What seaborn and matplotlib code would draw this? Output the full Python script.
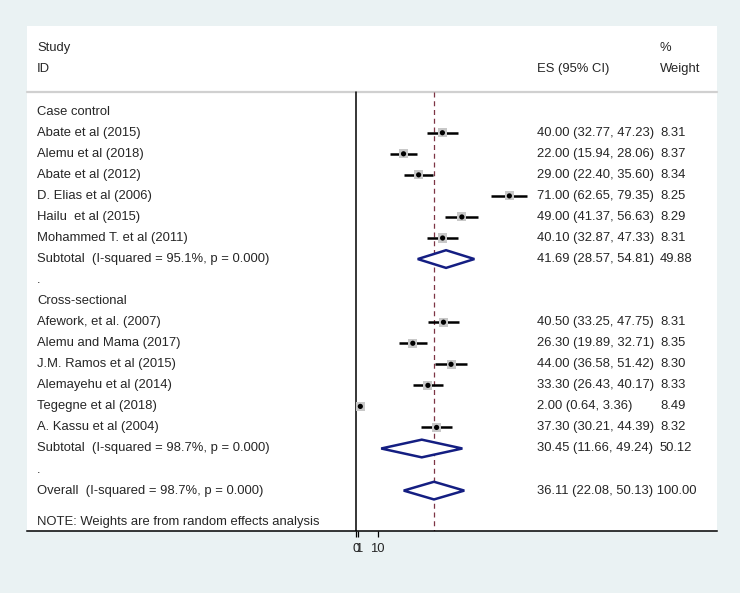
import pandas as pd
import numpy as np
import matplotlib
matplotlib.use("Agg")
import matplotlib.pyplot as plt
import seaborn as sns

# --- data ---
group_names = ["Case control", "Cross-sectional"]

cc_study = ["Abate et al (2015)", "Alemu et al (2018)", "Abate et al (2012)",
            "D. Elias et al (2006)", "Hailu  et al (2015)", "Mohammed T. et al (2011)"]
cc_es = [40.00, 22.00, 29.00, 71.00, 49.00, 40.10]
cc_lo = [32.77, 15.94, 22.40, 62.65, 41.37, 32.87]
cc_hi = [47.23, 28.06, 35.60, 79.35, 56.63, 47.33]
cc_w = [8.31, 8.37, 8.34, 8.25, 8.29, 8.31]

cs_study = ["Afework, et al. (2007)", "Alemu and Mama (2017)", "J.M. Ramos et al (2015)",
            "Alemayehu et al (2014)", "Tegegne et al (2018)", "A. Kassu et al (2004)"]
cs_es = [40.50, 26.30, 44.00, 33.30, 2.00, 37.30]
cs_lo = [33.25, 19.89, 36.58, 26.43, 0.64, 30.21]
cs_hi = [47.75, 32.71, 51.42, 40.17, 3.36, 44.39]
cs_w = [8.31, 8.35, 8.30, 8.33, 8.49, 8.32]

sub_es = [41.69, 30.45]
sub_lo = [28.57, 11.66]
sub_hi = [54.81, 49.24]
sub_w = [49.88, 50.12]
sub_i2 = ["95.1%", "98.7%"]
sub_p = ["0.000", "0.000"]

overall_es, overall_lo, overall_hi = 36.11, 22.08, 50.13
overall_i2, overall_p = "98.7%", "0.000"

x_ticks = [0, 1, 10]
x_ticklabels = ["0", "1", "10"]

# --- build row table ---
rows = []
r = 0
groups = [(cc_study, cc_es, cc_lo, cc_hi, cc_w), (cs_study, cs_es, cs_lo, cs_hi, cs_w)]
for g, (names, es, lo, hi, w) in enumerate(groups):
    rows.append(dict(row=r, label=group_names[g], kind="header"))
    r += 1
    for n, e, l, h, ww in zip(names, es, lo, hi, w):
        rows.append(dict(row=r, label=n, kind="study", es=e, lo=l, hi=h, w=ww))
        r += 1
    rows.append(dict(row=r, label=f"Subtotal  (I-squared = {sub_i2[g]}, p = {sub_p[g]})",
                     kind="sub", es=sub_es[g], lo=sub_lo[g], hi=sub_hi[g], w=sub_w[g]))
    r += 1
    rows.append(dict(row=r, label=".", kind="blank"))
    r += 1
rows.append(dict(row=r, label=f"Overall  (I-squared = {overall_i2}, p = {overall_p})",
                 kind="overall", es=overall_es, lo=overall_lo, hi=overall_hi, w=100.00))
df = pd.DataFrame(rows)
studies = df[df["kind"] == "study"]
pooled = df[df["kind"].isin(["sub", "overall"])]

# --- figure ---
sns.set_style("white")
plt.rcParams["font.family"] = ["Liberation Sans", "DejaVu Sans"]
fs_lab = 9.4     # study labels / headers
fs_num = 9.4     # numeric columns
bg = "#EAF2F3"

fig = plt.figure(figsize=(7.4, 5.93), dpi=100, facecolor=bg)
W, H = 740, 593
pl, pr, pt, pb = 27, 717, 26, 531
ax = fig.add_axes([pl / W, 1 - pb / H, (pr - pl) / W, (pb - pt) / H])
ax.set_facecolor("white")

x0, k = 356, 2.16          # pixel of value 0 and pixels per unit
y0, dy = 111.7, 21.05      # pixel of row 0 and pixels per row
ax.set_xlim((pl - x0) / k, (pr - x0) / k)
ax.set_ylim((pb - y0) / dy, (pt - y0) / dy)

def fx(px):
    return (px - pl) / (pr - pl)

def fy(py):
    return (py - y0) / dy

tr = ax.get_yaxis_transform()
top_line = fy(92)
bottom = fy(pb)

# header separator
ax.plot([0, 1], [top_line, top_line], transform=tr, color="#d0d0d0", lw=1.6, clip_on=False)

# null line and overall line
ax.plot([0, 0], [top_line, bottom], color="black", lw=1.1)
ax.plot([overall_es, overall_es], [top_line, bottom], color="#7d3444", lw=0.9,
        dashes=(4, 3))

# CIs and points
ax.hlines(studies["row"], studies["lo"], studies["hi"], color="black", lw=1.8)
sns.scatterplot(data=studies, x="es", y="row", marker="s", s=42, color="#c8c8c8",
                edgecolor="none", ax=ax, zorder=3, legend=False)
sns.scatterplot(data=studies, x="es", y="row", marker="o", s=14, color="black",
                edgecolor="none", ax=ax, zorder=4, legend=False)

# diamonds
hh = 0.42
for _, p in pooled.iterrows():
    xs = [p["lo"], p["es"], p["hi"], p["es"], p["lo"]]
    ys = [p["row"], p["row"] - hh, p["row"], p["row"] + hh, p["row"]]
    ax.fill(xs, ys, facecolor="white", edgecolor="#141e82", lw=1.8, zorder=3)

# left labels
for _, p in df.iterrows():
    ax.text(fx(37), p["row"], p["label"], transform=tr,
            ha="left", va="center", fontsize=fs_lab)

# right columns
for _, p in df[df["kind"].isin(["study", "sub", "overall"])].iterrows():
    es_txt = f"{p['es']:.2f} ({p['lo']:.2f}, {p['hi']:.2f})"
    if p["kind"] == "overall":
        ax.text(fx(537), p["row"], f"{es_txt} {p['w']:.2f}", transform=tr,
                ha="left", va="center", fontsize=fs_num)
    else:
        ax.text(fx(537), p["row"], es_txt, transform=tr,
                ha="left", va="center", fontsize=fs_num)
        ax.text(fx(660), p["row"], f"{p['w']:.2f}", transform=tr,
                ha="left", va="center", fontsize=fs_num)

# column headers
hy1, hy2 = fy(48), fy(69)
ax.text(fx(37), hy1, "Study", transform=tr, ha="left", va="center", fontsize=fs_lab)
ax.text(fx(37), hy2, "ID", transform=tr, ha="left", va="center", fontsize=fs_lab)
ax.text(fx(537), hy2, "ES (95% CI)", transform=tr, ha="left", va="center", fontsize=fs_lab)
ax.text(fx(660), hy1, "%", transform=tr, ha="left", va="center", fontsize=fs_lab)
ax.text(fx(660), hy2, "Weight", transform=tr, ha="left", va="center", fontsize=fs_lab)
ax.text(fx(37), fy(521.7), "NOTE: Weights are from random effects analysis",
        transform=tr, ha="left", va="center", fontsize=fs_lab)

# axis
for s in ["top", "left", "right"]:
    ax.spines[s].set_visible(False)
ax.spines["bottom"].set_color("black")
ax.spines["bottom"].set_linewidth(1.1)
ax.set_yticks([])
ax.set_xticks(x_ticks)
ax.set_xticklabels(x_ticklabels)
ax.tick_params(axis="x", direction="out", length=4.5, width=0.9, color="black",
               labelsize=fs_lab, pad=4, bottom=True)
ax.set_xlabel("")
ax.set_ylabel("")

fig.savefig("out.png", dpi=100, facecolor=bg)
